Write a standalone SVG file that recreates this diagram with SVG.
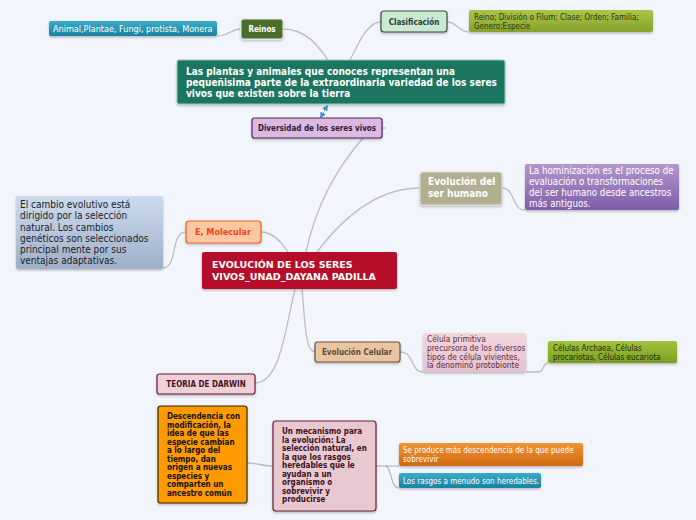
<svg xmlns="http://www.w3.org/2000/svg" width="696" height="520" viewBox="0 0 696 520">
<defs>
<linearGradient id="gTeal" x1="0" y1="0" x2="0" y2="1"><stop offset="0" stop-color="#3aabc9"/><stop offset="1" stop-color="#1a82a2"/></linearGradient>
<linearGradient id="gOlive" x1="0" y1="0" x2="0" y2="1"><stop offset="0" stop-color="#aac64a"/><stop offset="1" stop-color="#86a22a"/></linearGradient>
<linearGradient id="gGreen2" x1="0" y1="0" x2="0" y2="1"><stop offset="0" stop-color="#a2c23c"/><stop offset="1" stop-color="#7aa022"/></linearGradient>
<linearGradient id="gOrange" x1="0" y1="0" x2="0" y2="1"><stop offset="0" stop-color="#f29432"/><stop offset="1" stop-color="#cf6912"/></linearGradient>
<linearGradient id="gPurple" x1="0" y1="0" x2="0" y2="1"><stop offset="0" stop-color="#b396ce"/><stop offset="1" stop-color="#7e5ea8"/></linearGradient>
<linearGradient id="gBlue" x1="0" y1="0" x2="0" y2="1"><stop offset="0" stop-color="#cddbee"/><stop offset="1" stop-color="#9db0c9"/></linearGradient>
<linearGradient id="gPink" x1="0" y1="0" x2="0" y2="1"><stop offset="0" stop-color="#f2d6de"/><stop offset="1" stop-color="#e6c2ce"/></linearGradient>
<filter id="sh" x="-10%" y="-10%" width="130%" height="140%"><feDropShadow dx="0" dy="1.5" stdDeviation="1" flood-color="#000" flood-opacity="0.25"/></filter>
<marker id="ab" viewBox="0 0 8 8" refX="6" refY="4" markerWidth="6" markerHeight="6" orient="auto-start-reverse"><path d="M0,0 L8,4 L0,8 Z" fill="#3a8ee0"/></marker>
<style>
text{font-family:"DejaVu Sans Condensed","DejaVu Sans",sans-serif;}
.c{fill:none;stroke:#bdbdbd;stroke-width:1.3;}
.b{font-weight:bold;}
.w{fill:#fff;}
.s8{font-size:8px;}
.s9{font-size:9px;}
.s10{font-size:10px;}
.mid{text-anchor:middle;}
.ctr{font-family:"DejaVu Sans",sans-serif;font-size:9.5px;font-weight:bold;fill:#fff;}
</style>
</defs>
<rect width="696" height="520" fill="#f3f5fd"/>

<g id="connectors">
<path class="c" d="M241,29 C230,29 230,36 217,36"/>
<path class="c" d="M283,29 C305,29 318,45 328,60"/>
<path class="c" d="M350,60 C360,40 368,22 381,22"/>
<path class="c" d="M447,22 C458,22 458,32 469,32"/>
<path class="c" d="M382,128 L386,128"/>
<path class="c" d="M363,138 C335,170 315,210 306,252"/>
<path class="c" d="M317,252 C345,215 380,188 420,188"/>
<path class="c" d="M502,188 C515,188 512,210 525,210"/>
<path class="c" d="M288,252 C280,240 272,232 261,232"/>
<path class="c" d="M186,232 C170,232 178,268 163,268"/>
<path class="c" d="M295,289 C285,330 280,383 255,383"/>
<path class="c" d="M302,289 C305,320 305,352 315,352"/>
<path class="c" d="M400,352 C415,352 410,372 423,372"/>
<path class="c" d="M526,372 L538,372 C545,372 542,363 548,363"/>
<path class="c" d="M247,463 C260,463 260,466 273,466"/>
<path class="c" d="M376,466 L399,466"/>
<path class="c" d="M385,466 C392,466 390,488 399,488"/>
<path d="M327,106 L321,117" fill="none" stroke="#3a8ee0" stroke-width="1" stroke-dasharray="2,1.5" marker-start="url(#ab)" marker-end="url(#ab)"/>
</g>

<g id="animal">
<rect x="49" y="21" width="168" height="15" rx="2" fill="url(#gTeal)" filter="url(#sh)"/>
<text x="53" y="32" class="s9 w">Animal,Plantae, Fungi, protista, Monera</text>
</g>
<g id="reinos">
<rect x="241" y="19" width="42" height="20" rx="2.5" fill="#4a6e2e" stroke="#e6eee0" stroke-width="1" filter="url(#sh)"/>
<text x="262" y="32" class="s8 b w mid">Reinos</text>
</g>
<g id="clasificacion">
<rect x="381" y="11" width="66" height="21" rx="3" fill="#c9e9d3" stroke="#3d4b43" stroke-width="1.2" filter="url(#sh)"/>
<text x="414" y="24.5" class="s8 b mid" fill="#2c3a30">Clasificación</text>
</g>
<g id="reino-list">
<rect x="469" y="10" width="184" height="22" rx="2" fill="url(#gOlive)" filter="url(#sh)"/>
<text x="474" y="20" class="s8" fill="#2a3410">Reino; División o Filum; Clase; Orden; Familia;</text>
<text x="474" y="29" class="s8" fill="#2a3410">Genero;Especie</text>
</g>
<g id="plantas">
<rect x="177" y="60" width="328" height="44" rx="2" fill="#1a7560" stroke="#8ed0b8" stroke-width="1" filter="url(#sh)"/>
<text x="186" y="75" class="s10 b w">Las plantas y animales que conoces representan una</text>
<text x="186" y="86" class="s10 b w">pequeñisima parte de la extraordinaria variedad de los seres</text>
<text x="186" y="97" class="s10 b w">vivos que existen sobre la tierra</text>
</g>
<g id="diversidad">
<rect x="252" y="118" width="130" height="20" rx="2.5" fill="#dcb9e1" stroke="#4b2b52" stroke-width="1.2" filter="url(#sh)"/>
<text x="317" y="131" class="s8 b mid" fill="#2e1a32">Diversidad de los seres vivos</text>
</g>
<g id="ev-humano">
<rect x="420" y="172" width="82" height="33" rx="3" fill="#b1ae91" stroke="#e0dfd0" stroke-width="1" filter="url(#sh)"/>
<text x="428" y="185" class="s10 b w">Evolución del</text>
<text x="428" y="197" class="s10 b w">ser humano</text>
</g>
<g id="hominizacion">
<rect x="525" y="164" width="154" height="46" rx="2" fill="url(#gPurple)" filter="url(#sh)"/>
<text x="529" y="174" class="w" font-size="9.7">La hominización es el proceso de</text>
<text x="529" y="185" class="w" font-size="9.7">evaluación o transformaciones</text>
<text x="529" y="196" class="w" font-size="9.7">del ser humano desde ancestros</text>
<text x="529" y="207" class="w" font-size="9.7">más antiguos.</text>
</g>
<g id="molecular">
<rect x="186" y="221" width="75" height="22" rx="3" fill="#fcc8a2" stroke="#f26234" stroke-width="1.2" filter="url(#sh)"/>
<text x="223" y="235" class="s9 b mid" fill="#f0441a">E, Molecular</text>
</g>
<g id="cambio">
<rect x="16" y="196" width="147" height="73" rx="2" fill="url(#gBlue)" filter="url(#sh)"/>
<text x="20" y="208" class="s10" fill="#222">El cambio evolutivo está</text>
<text x="20" y="219" class="s10" fill="#222">dirigido por la selección</text>
<text x="20" y="230.5" class="s10" fill="#222">natural. Los cambios</text>
<text x="20" y="241.5" class="s10" fill="#222">genéticos son seleccionados</text>
<text x="20" y="253" class="s10" fill="#222">principal mente por sus</text>
<text x="20" y="264" class="s10" fill="#222">ventajas adaptativas.</text>
</g>
<g id="central">
<rect x="202" y="252" width="195" height="37" rx="2" fill="#b50b2b" filter="url(#sh)"/>
<text x="212" y="268" class="ctr">EVOLUCIÓN DE LOS SERES</text>
<text x="212" y="280" class="ctr">VIVOS_UNAD_DAYANA PADILLA</text>
</g>
<g id="ev-celular">
<rect x="315" y="342" width="85" height="20" rx="2.5" fill="#e9c5a2" stroke="#6b5241" stroke-width="1.2" filter="url(#sh)"/>
<text x="357" y="355" class="s8 b mid" fill="#5a4a3a">Evolución Celular</text>
</g>
<g id="celula-primitiva">
<rect x="423" y="333" width="103" height="39" rx="2" fill="url(#gPink)" filter="url(#sh)"/>
<text x="427" y="342" font-size="8.3" fill="#5a2a3a">Célula primitiva</text>
<text x="427" y="351" font-size="8.3" fill="#5a2a3a">precursora de los diversos</text>
<text x="427" y="359.5" font-size="8.3" fill="#5a2a3a">tipos de célula vivientes,</text>
<text x="427" y="368" font-size="8.3" fill="#5a2a3a">la denominó protobionte</text>
</g>
<g id="archaea">
<rect x="548" y="341" width="129" height="22" rx="2" fill="url(#gGreen2)" filter="url(#sh)"/>
<text x="553" y="351" class="s8" fill="#1e2a08">Células Archaea, Células</text>
<text x="553" y="359.5" class="s8" fill="#1e2a08">procariotas, Células eucariota</text>
</g>
<g id="darwin">
<rect x="157" y="374" width="98" height="20" rx="2.5" fill="#edd1d9" stroke="#6b1b31" stroke-width="1.2" filter="url(#sh)"/>
<text x="206" y="387" class="s8 b mid" fill="#4a1020">TEORIA DE DARWIN</text>
</g>
<g id="descendencia">
<rect x="158" y="406" width="89" height="97" rx="2.5" fill="#ff9a00" stroke="#3a2a00" stroke-width="1.2" filter="url(#sh)"/>
<text class="s8 b" fill="#111"><tspan x="167" y="419">Descendencia con</tspan><tspan x="167" y="427.5">modificación, la</tspan><tspan x="167" y="436">idea de que las</tspan><tspan x="167" y="444.5">especie cambian</tspan><tspan x="167" y="453">a lo largo del</tspan><tspan x="167" y="461.5">tiempo, dan</tspan><tspan x="167" y="470">origen a nuevas</tspan><tspan x="167" y="478.5">especies y</tspan><tspan x="167" y="487">comparten un</tspan><tspan x="167" y="495.5">ancestro común</tspan></text>
</g>
<g id="mecanismo">
<rect x="273" y="421" width="103" height="90" rx="3" fill="#e9c9d1" stroke="#6b2131" stroke-width="1.2" filter="url(#sh)"/>
<text class="s8 b" fill="#3a1020"><tspan x="282" y="434">Un mecanismo para</tspan><tspan x="282" y="442.5">la evolución: La</tspan><tspan x="282" y="451">selección natural, en</tspan><tspan x="282" y="459.5">la que los rasgos</tspan><tspan x="282" y="468">heredables que le</tspan><tspan x="282" y="476.5">ayudan a un</tspan><tspan x="282" y="485">organismo o</tspan><tspan x="282" y="493.5">sobrevivir y</tspan><tspan x="282" y="502">producirse</tspan></text>
</g>
<g id="se-produce">
<rect x="399" y="443" width="184" height="23" rx="2" fill="url(#gOrange)" filter="url(#sh)"/>
<text x="403" y="452.5" class="s8 w">Se produce más descendencia de la que puede</text>
<text x="403" y="461.5" class="s8 w">sobrevivir</text>
</g>
<g id="rasgos">
<rect x="399" y="473" width="142" height="15" rx="2" fill="url(#gTeal)" filter="url(#sh)"/>
<text x="403" y="483.5" class="s8 w">Los rasgos a menudo son heredables.</text>
</g>
</svg>
